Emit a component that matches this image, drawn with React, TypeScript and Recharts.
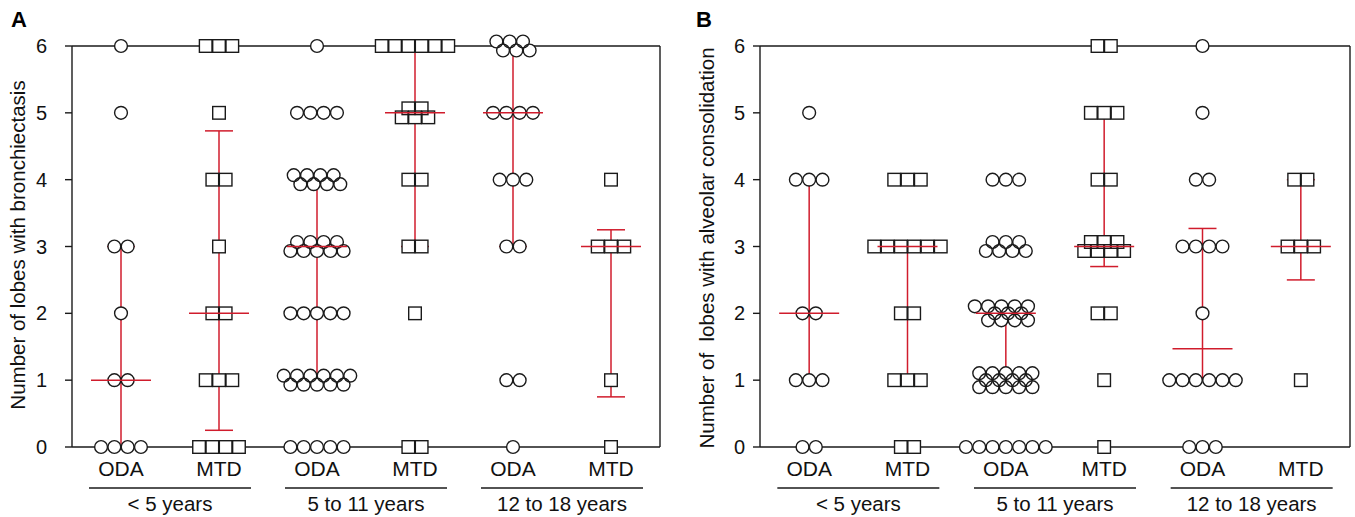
import React from "react";
import { ScatterChart, Scatter, XAxis, YAxis, ReferenceLine, ErrorBar } from "recharts";

// x categories and age groups
const categories = ["ODA", "MTD", "ODA", "MTD", "ODA", "MTD"];
const ageGroups = ["< 5 years", "5 to 11 years", "12 to 18 years"];
const yTicks = [0, 1, 2, 3, 4, 5, 6];

// each row: [lobes, count in top row, count in 2nd row, ...] (stacked rows = crowded values)
const bronchOdaU5 = [[6, 1], [5, 1], [3, 2], [2, 1], [1, 2], [0, 4]];
const bronchMtdU5 = [[6, 3], [5, 1], [4, 2], [3, 1], [2, 2], [1, 3], [0, 4]];
const bronchOda511 = [[6, 1], [5, 4], [4, 4, 4], [3, 4, 5], [2, 5], [1, 6, 5], [0, 5]];
const bronchMtd511 = [[6, 6], [5, 2, 3], [4, 2], [3, 2], [2, 1], [0, 2]];
const bronchOda1218 = [[6, 3, 3], [5, 4], [4, 3], [3, 2], [1, 2], [0, 1]];
const bronchMtd1218 = [[4, 1], [3, 3], [1, 1], [0, 1]];
const bronchMedian = [1, 2, 3, 5, 5, 3];
const bronchLow = [0, 0.25, 1, 3, 3, 0.75];
const bronchHigh = [3, 4.73, 4, 6, 6, 3.25];

const alvOdaU5 = [[5, 1], [4, 3], [2, 2], [1, 3], [0, 2]];
const alvMtdU5 = [[4, 3], [3, 6], [2, 2], [1, 3], [0, 2]];
const alvOda511 = [[4, 3], [3, 3, 4], [2, 5, 3, 4], [1, 5, 4, 5], [0, 7]];
const alvMtd511 = [[6, 2], [5, 3], [4, 2], [3, 3, 4], [2, 2], [1, 1], [0, 1]];
const alvOda1218 = [[6, 1], [5, 1], [4, 2], [3, 4], [2, 1], [1, 6], [0, 3]];
const alvMtd1218 = [[4, 2], [3, 3], [1, 1]];
const alvMedian = [2, 3, 2, 3, 1.47, 3];
const alvLow = [1, 1, 1, 2.7, 1, 2.5];
const alvHigh = [4, 3, 2, 5, 3.27, 4];

const RED = "#d01c2c";
const INK = "#1a1a1a";
const FONT = "'Liberation Sans', Arial, Helvetica, sans-serif";
const H = 517;
const PLOT_TOP = 46;
const PLOT_BOTTOM = 447;
const STEP_PX = 13.3;
const ROW_OFFSETS: Record<number, number[]> = { 1: [0], 2: [-4.5, 4.5], 3: [-7, 0, 7] };

// beeswarm-like placement: points sit on their value, offsets are pixel nudges
function layoutGroup(rows: number[][], gi: number) {
  const pts: { x: number; y: number; dx: number; dy: number }[] = [];
  rows.forEach(([level, ...counts]) => {
    const shifts = [0];
    for (let r = 1; r < counts.length; r++) {
      const sameParity = (counts[r] - counts[r - 1]) % 2 === 0;
      shifts.push(sameParity ? shifts[r - 1] + (r % 2 ? 0.5 : -0.5) : shifts[r - 1]);
    }
    const mean = shifts.reduce((a, b) => a + b, 0) / shifts.length;
    const offs = ROW_OFFSETS[counts.length];
    counts.forEach((n, r) => {
      for (let k = 0; k < n; k++) {
        pts.push({ x: gi + 0.5, y: level, dx: (k - (n - 1) / 2 + shifts[r] - mean) * STEP_PX, dy: offs[r] });
      }
    });
  });
  return pts;
}

const off = (p: any) => {
  const d = p.payload || p;
  return { x: p.cx + (d.dx || 0), y: p.cy + (d.dy || 0) };
};
const circleFill = (p: any) => {
  const c = off(p);
  return <circle cx={c.x} cy={c.y} r={6.4} fill="#fff" stroke="none" />;
};
const circleLine = (p: any) => {
  const c = off(p);
  return <circle cx={c.x} cy={c.y} r={6.4} fill="none" stroke={INK} strokeWidth={1.4} />;
};
const squareFill = (p: any) => {
  const c = off(p);
  return <rect x={c.x - 6.3} y={c.y - 6.3} width={12.6} height={12.6} fill="#fff" stroke="none" />;
};
const squareLine = (p: any) => {
  const c = off(p);
  return <rect x={c.x - 6.3} y={c.y - 6.3} width={12.6} height={12.6} fill="none" stroke={INK} strokeWidth={1.4} />;
};
const medianShape = (p: any) => (
  <line x1={p.cx - 30} x2={p.cx + 30} y1={p.cy} y2={p.cy} stroke={RED} strokeWidth={1.5} />
);

interface PanelProps {
  left: number;
  width: number;
  marginLeft: number;
  marginRight: number;
  tickGap: number;
  groups: number[][][];
  median: number[];
  low: number[];
  high: number[];
}

function Panel({ left, width, marginLeft, marginRight, tickGap, groups, median, low, high }: PanelProps) {
  const yAxisW = 40;
  const plotW = width - marginLeft - yAxisW - marginRight;
  const band = plotW / 6;
  const circles = groups.flatMap((g, i) => (i % 2 === 0 ? layoutGroup(g, i) : []));
  const squares = groups.flatMap((g, i) => (i % 2 === 1 ? layoutGroup(g, i) : []));
  const stats = median.map((m, i) => ({ x: i + 0.5, y: m, err: [m - low[i], high[i] - m] }));

  const renderTick = (props: any) => {
    const { x, payload } = props;
    const idx = Math.floor(payload.value);
    const center = x - band / 2;
    return (
      <g>
        <text x={x} y={476} textAnchor="middle" fontSize={21} fill="#111" fontFamily={FONT}>
          {categories[idx]}
        </text>
        {idx % 2 === 1 && (
          <g>
            <line x1={center - 81} x2={center + 81} y1={488} y2={488} stroke={INK} strokeWidth={1.3} />
            <text x={center} y={511} textAnchor="middle" fontSize={20.5} fill="#111" fontFamily={FONT}>
              {ageGroups[(idx - 1) / 2]}
            </text>
          </g>
        )}
      </g>
    );
  };

  return (
    <div style={{ position: "absolute", left, top: 0, width, height: H }}>
      <ScatterChart
        width={width}
        height={H}
        margin={{ top: PLOT_TOP, right: marginRight, bottom: 0, left: marginLeft }}
      >
        <XAxis
          type="number"
          dataKey="x"
          domain={[0, 6]}
          ticks={[0.5, 1.5, 2.5, 3.5, 4.5, 5.5]}
          interval={0}
          tickLine={false}
          height={H - PLOT_BOTTOM}
          axisLine={{ stroke: INK, strokeWidth: 1.4 }}
          tick={renderTick}
        />
        <YAxis
          type="number"
          dataKey="y"
          domain={[0, 6]}
          ticks={yTicks}
          interval={0}
          width={yAxisW}
          tickSize={7}
          tickMargin={tickGap}
          axisLine={{ stroke: INK, strokeWidth: 1.4 }}
          tickLine={{ stroke: INK, strokeWidth: 1.4 }}
          tick={{ fill: "#111", fontSize: 20, fontFamily: FONT }}
        />
        <ReferenceLine y={6} stroke={INK} strokeWidth={1.4} />
        <ReferenceLine x={6} stroke={INK} strokeWidth={1.4} />
        <Scatter data={circles} shape={circleFill} isAnimationActive={false} />
        <Scatter data={squares} shape={squareFill} isAnimationActive={false} />
        <Scatter data={circles} shape={circleLine} isAnimationActive={false} />
        <Scatter data={squares} shape={squareLine} isAnimationActive={false} />
        <Scatter data={stats} shape={medianShape} isAnimationActive={false}>
          <ErrorBar dataKey="err" direction="y" width={14} stroke={RED} strokeWidth={1.5} />
        </Scatter>
      </ScatterChart>
    </div>
  );
}

export default function App() {
  return (
    <div style={{ position: "absolute", left: 0, top: 0, width: 1355, height: H, background: "#fff", fontFamily: FONT }}>
      <Panel
        left={0}
        width={680}
        marginLeft={32}
        marginRight={20}
        tickGap={18}
        groups={[bronchOdaU5, bronchMtdU5, bronchOda511, bronchMtd511, bronchOda1218, bronchMtd1218]}
        median={bronchMedian}
        low={bronchLow}
        high={bronchHigh}
      />
      <Panel
        left={680}
        width={675}
        marginLeft={40}
        marginRight={5}
        tickGap={8}
        groups={[alvOdaU5, alvMtdU5, alvOda511, alvMtd511, alvOda1218, alvMtd1218]}
        median={alvMedian}
        low={alvLow}
        high={alvHigh}
      />
      <svg width={1355} height={H} style={{ position: "absolute", left: 0, top: 0, pointerEvents: "none" }}>
        <text x={11} y={27} fontSize={22} fontWeight="bold" fill="#000" fontFamily={FONT}>A</text>
        <text x={696} y={27} fontSize={22} fontWeight="bold" fill="#000" fontFamily={FONT}>B</text>
        <text
          transform="translate(25,245) rotate(-90)"
          textAnchor="middle"
          fontSize={20.5}
          fill="#111"
          fontFamily={FONT}
        >
          Number of lobes with bronchiectasis
        </text>
        <text
          transform="translate(714,248) rotate(-90)"
          textAnchor="middle"
          fontSize={20.5}
          fill="#111"
          fontFamily={FONT}
          style={{ whiteSpace: "pre" }}
        >
          {"Number of  lobes with alveolar consolidation"}
        </text>
      </svg>
    </div>
  );
}
